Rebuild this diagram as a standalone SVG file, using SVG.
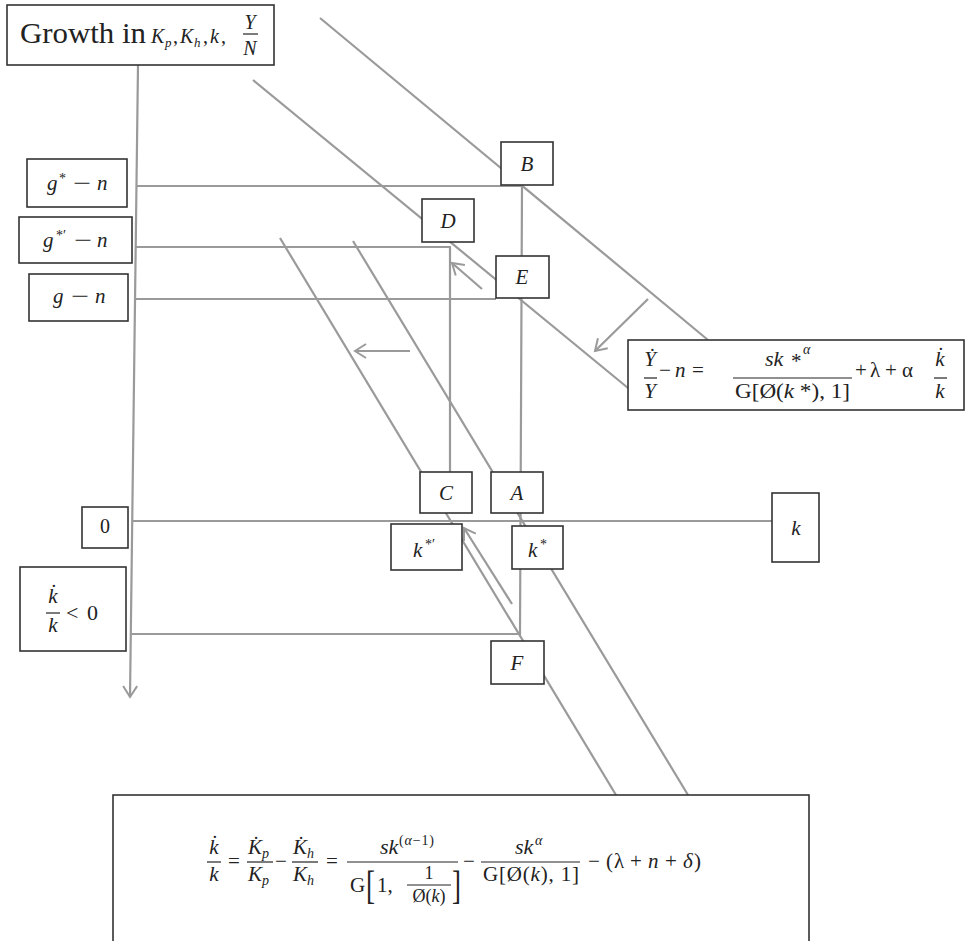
<svg xmlns="http://www.w3.org/2000/svg" width="966" height="941" viewBox="0 0 966 941">
<style>
.ln{stroke:#9a9a9a;stroke-width:2.2;fill:none}
.bx{fill:#fff;stroke:#333;stroke-width:1.6}
.bar{stroke:#222;stroke-width:1.2}
text{font-family:"Liberation Serif","DejaVu Serif",serif;fill:#222}
.i{font-style:italic}
.n{font-style:normal}
.m{font-size:21px}
.f{font-size:21px}
.sp{font-size:14px}
</style>
<defs>
<marker id="ah" markerWidth="16" markerHeight="18" refX="13" refY="9" orient="auto" markerUnits="userSpaceOnUse">
<path d="M2,2 L13,9 L2,16" fill="none" stroke="#9a9a9a" stroke-width="2"/>
</marker>
</defs>
<rect width="966" height="941" fill="#fff"/>
<g id="connectors">
<line class="ln" x1="138" y1="65" x2="130" y2="697" marker-end="url(#ah)"/>
<line class="ln" x1="320" y1="18" x2="708" y2="340"/>
<line class="ln" x1="253" y1="80" x2="628" y2="388"/>
<line class="ln" x1="280" y1="238" x2="616" y2="795"/>
<line class="ln" x1="353" y1="241" x2="688" y2="795"/>
<line class="ln" x1="136" y1="186" x2="522" y2="186"/>
<polyline class="ln" points="522,186 520,634 131,634"/>
<polyline class="ln" points="136,247 450,247 450,472"/>
<line class="ln" x1="135" y1="299" x2="496" y2="299"/>
<line class="ln" x1="132" y1="521" x2="772" y2="521"/>
<line class="ln" x1="482" y1="289" x2="452" y2="263" marker-end="url(#ah)"/>
<line class="ln" x1="410" y1="351" x2="355" y2="351" marker-end="url(#ah)"/>
<line class="ln" x1="648" y1="299" x2="595" y2="351" marker-end="url(#ah)"/>
<line class="ln" x1="512" y1="604" x2="464" y2="528" marker-end="url(#ah)"/>
</g>
<g id="title">
<rect class="bx" x="7" y="5" width="267" height="60"/>
<text x="20" y="43" font-size="29" textLength="126" lengthAdjust="spacingAndGlyphs">Growth in</text>
<text class="i" font-size="20" y="43"><tspan x="151">K</tspan><tspan x="165" y="47" font-size="13">p</tspan><tspan x="173" y="43" class="n">,</tspan><tspan x="180">K</tspan><tspan x="194" y="47" font-size="13">h</tspan><tspan x="203" y="43" class="n">,</tspan><tspan x="210">k</tspan><tspan x="221" class="n">,</tspan></text>
<text class="i" font-size="20" x="250" y="29" text-anchor="middle">Y</text>
<line class="bar" x1="243" y1="34" x2="258" y2="34"/>
<text class="i" font-size="20" x="250" y="55" text-anchor="middle">N</text>
</g>
<g id="g-star-n">
<rect class="bx" x="27" y="159" width="100" height="48"/>
<text class="i m" y="190"><tspan x="47">g</tspan><tspan x="59" y="183" class="n sp">*</tspan><tspan x="97" y="190">n</tspan></text>
<text class="m" x="73" y="190" textLength="18" lengthAdjust="spacingAndGlyphs">−</text>
</g>
<g id="g-star-prime-n">
<rect class="bx" x="19" y="217" width="113" height="46"/>
<text class="i m" y="247"><tspan x="43">g</tspan><tspan x="56" y="240" class="n sp">*′</tspan><tspan x="97" y="247">n</tspan></text>
<text class="m" x="74" y="247" textLength="18" lengthAdjust="spacingAndGlyphs">−</text>
</g>
<g id="g-n">
<rect class="bx" x="29" y="274" width="99" height="47"/>
<text class="i m" y="303"><tspan x="53">g</tspan><tspan x="95">n</tspan></text>
<text class="m" x="71" y="303" textLength="18" lengthAdjust="spacingAndGlyphs">−</text>
</g>
<g id="B"><rect class="bx" x="501" y="142" width="52" height="43"/><text class="i m" x="527" y="171" text-anchor="middle">B</text></g>
<g id="D"><rect class="bx" x="422" y="199" width="52" height="43"/><text class="i m" x="448" y="228" text-anchor="middle">D</text></g>
<g id="E"><rect class="bx" x="496" y="256" width="53" height="42"/><text class="i m" x="522" y="284" text-anchor="middle">E</text></g>
<g id="eq-growth">
<rect class="bx" x="628" y="340" width="336" height="70"/>
<text class="i" font-size="21" x="650" y="366" text-anchor="middle">Ẏ</text>
<line class="bar" x1="644" y1="378" x2="657" y2="378"/>
<text class="i" font-size="21" x="650" y="398" text-anchor="middle">Y</text>
<text font-size="21" x="659" y="377" textLength="12" lengthAdjust="spacingAndGlyphs">−</text>
<text class="i" font-size="21" x="675" y="377">n</text>
<text font-size="21" x="692" y="377">=</text>
<text class="i" font-size="22" x="765" y="366">sk</text>
<text font-size="21" x="791" y="368">*</text>
<text class="i sp" x="803" y="354">α</text>
<line class="bar" x1="733" y1="378" x2="852" y2="378"/>
<text font-size="20" x="735" y="398" textLength="115" lengthAdjust="spacingAndGlyphs">G[Ø(<tspan class="i">k</tspan> *),   1]</text>
<text font-size="21" y="377"><tspan x="855">+</tspan><tspan x="870">λ</tspan><tspan x="885">+</tspan><tspan x="902">α</tspan></text>
<text class="i" font-size="21" x="940" y="366" text-anchor="middle">k̇</text>
<line class="bar" x1="934" y1="378" x2="947" y2="378"/>
<text class="i" font-size="21" x="940" y="398" text-anchor="middle">k</text>
</g>
<g id="C"><rect class="bx" x="420" y="472" width="52" height="41"/><text class="i m" x="446" y="500" text-anchor="middle">C</text></g>
<g id="A"><rect class="bx" x="491" y="472" width="52" height="41"/><text class="i m" x="517" y="500" text-anchor="middle">A</text></g>
<g id="zero"><rect class="bx" x="82" y="507" width="46" height="41"/><text font-size="20" x="105" y="533" text-anchor="middle">0</text></g>
<g id="k-axis"><rect class="bx" x="772" y="493" width="47" height="69"/><text class="i m" x="796" y="535" text-anchor="middle">k</text></g>
<g id="k-star-prime"><rect class="bx" x="391" y="524" width="71" height="46"/><text class="i m" y="557"><tspan x="413">k</tspan><tspan x="425" y="549" class="n sp">*′</tspan></text></g>
<g id="k-star"><rect class="bx" x="512" y="526" width="51" height="43"/><text class="i m" y="557"><tspan x="528">k</tspan><tspan x="540" y="549" class="n sp">*</tspan></text></g>
<g id="kdot-neg">
<rect class="bx" x="20" y="567" width="106" height="84"/>
<text class="i" font-size="21" x="53" y="603" text-anchor="middle">k̇</text>
<line class="bar" x1="46" y1="613" x2="60" y2="613"/>
<text class="i" font-size="21" x="53" y="632" text-anchor="middle">k</text>
<text font-size="22" y="620"><tspan x="66">&lt;</tspan><tspan x="87">0</tspan></text>
</g>
<g id="F"><rect class="bx" x="491" y="641" width="53" height="43"/><text class="i m" x="517" y="670" text-anchor="middle">F</text></g>
<g id="eq-kdot">
<rect class="bx" x="113" y="795" width="696" height="160"/>
<text class="i f" x="214" y="854" text-anchor="middle">k̇</text>
<line class="bar" x1="207" y1="862" x2="221" y2="862"/>
<text class="i f" x="214" y="881" text-anchor="middle">k</text>
<text class="f" x="234" y="868" text-anchor="middle">=</text>
<text class="i f" x="248" y="854">K̇</text><text class="i sp" x="262" y="858">p</text>
<line class="bar" x1="247" y1="862" x2="273" y2="862"/>
<text class="i f" x="248" y="881">K</text><text class="i sp" x="262" y="885">p</text>
<text class="f" x="281" y="868" text-anchor="middle">−</text>
<text class="i f" x="293" y="854">K̇</text><text class="i sp" x="307" y="858">h</text>
<line class="bar" x1="292" y1="862" x2="318" y2="862"/>
<text class="i f" x="293" y="881">K</text><text class="i sp" x="307" y="885">h</text>
<text class="f" x="332" y="868" text-anchor="middle">=</text>
<text class="i" font-size="22" x="380" y="854">sk</text>
<text class="sp" x="399" y="845" textLength="35" lengthAdjust="spacing">(<tspan class="i">α</tspan>−1)</text>
<line class="bar" x1="347" y1="862" x2="458" y2="862"/>
<text class="f" x="350" y="892">G</text>
<text font-size="27" transform="translate(366,899) scale(1,1.45)">[</text>
<text class="f" x="377" y="892">1,</text>
<text font-size="18" x="429" y="879" text-anchor="middle">1</text>
<line class="bar" x1="407" y1="885" x2="451" y2="885"/>
<text font-size="18" x="429" y="902" text-anchor="middle">Ø(<tspan class="i">k</tspan>)</text>
<text font-size="27" transform="translate(452,899) scale(1,1.45)">]</text>
<text class="f" x="469" y="868" text-anchor="middle">−</text>
<text class="i" font-size="22" x="515" y="854">sk</text>
<text class="i sp" x="535" y="845">α</text>
<line class="bar" x1="481" y1="862" x2="580" y2="862"/>
<text class="f" x="483" y="881" textLength="96" lengthAdjust="spacing">G[Ø(<tspan class="i">k</tspan>),  1]</text>
<text class="f" x="594" y="868" text-anchor="middle">−</text>
<text class="f" y="868"><tspan x="606">(</tspan><tspan x="614">λ</tspan><tspan x="630">+</tspan><tspan x="648" class="i">n</tspan><tspan x="665">+</tspan><tspan x="683" class="i">δ</tspan><tspan x="694">)</tspan></text>
</g>
</svg>
